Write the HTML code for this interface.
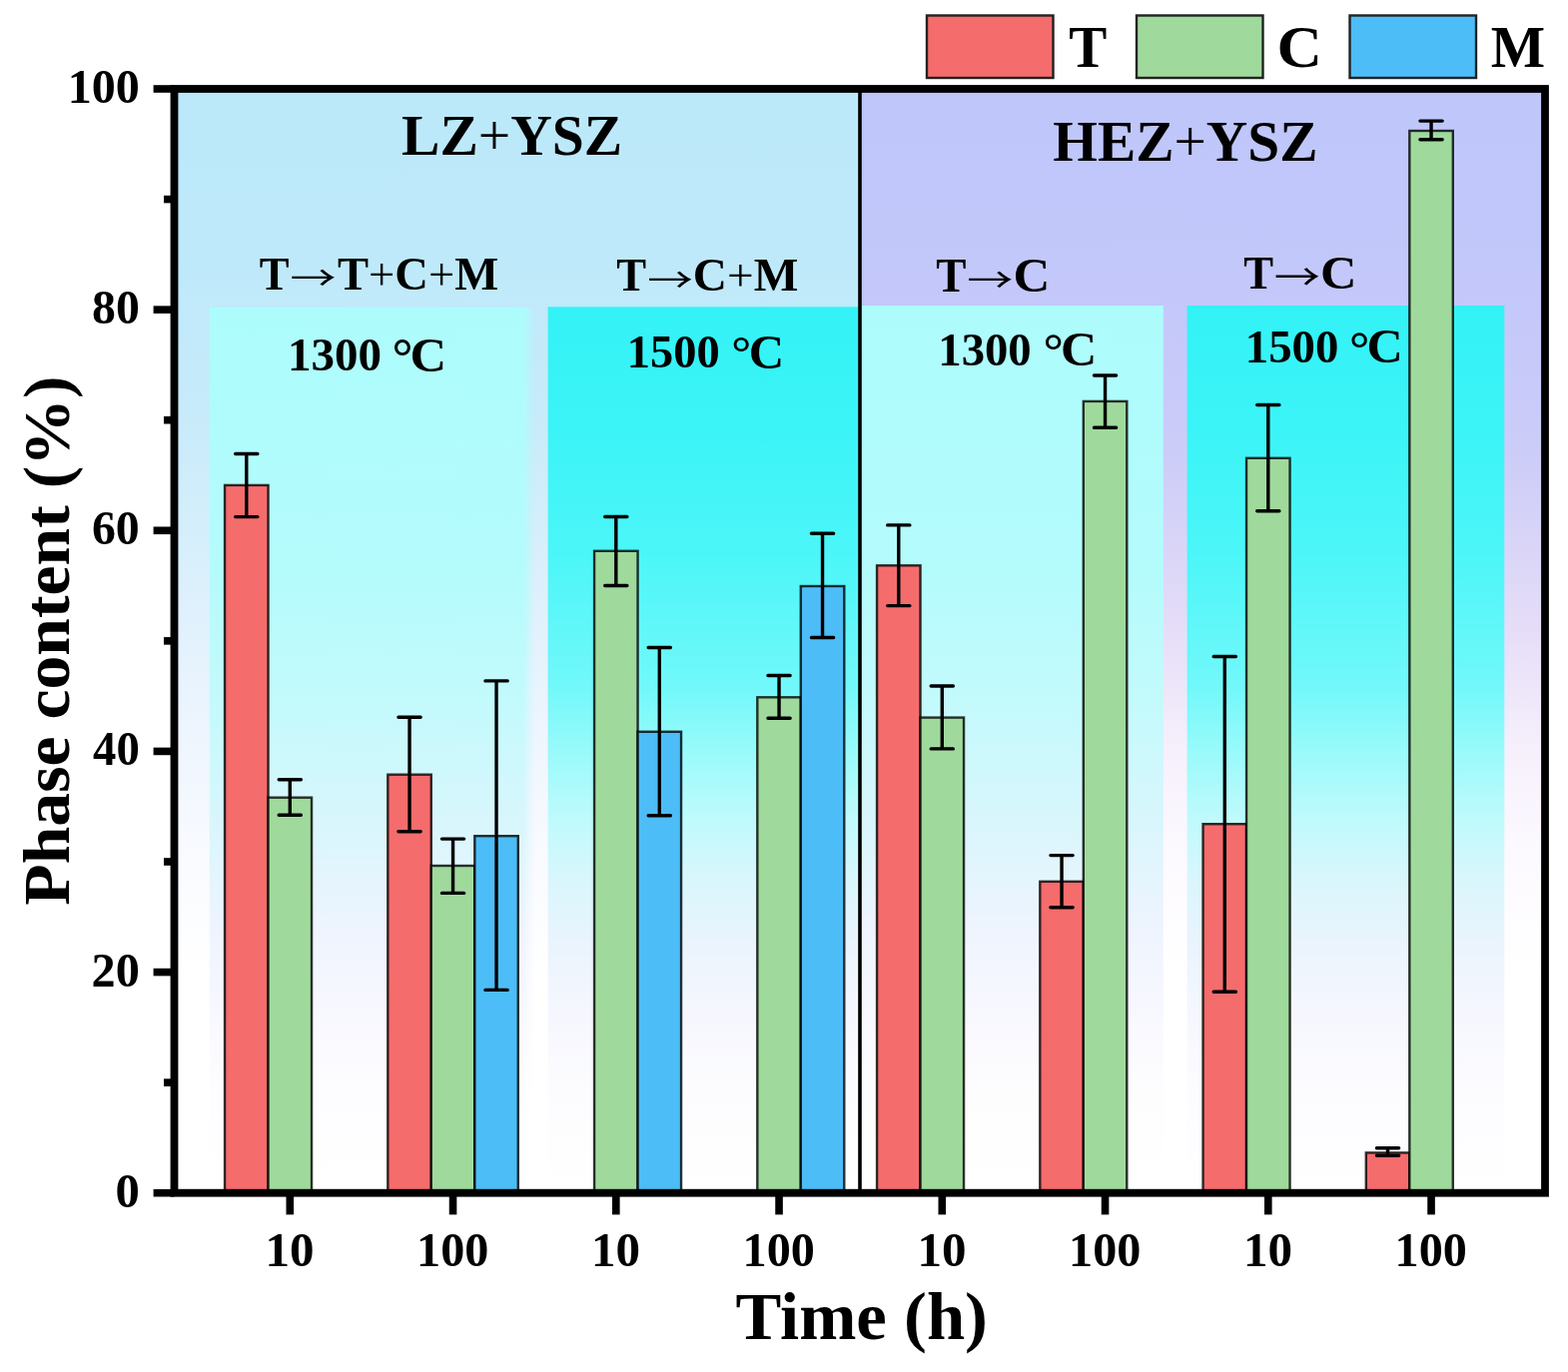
<!DOCTYPE html>
<html><head><meta charset="utf-8"><title>Phase content</title>
<style>html,body{margin:0;padding:0;background:#fff;}svg{display:block;}
text{font-family:"Liberation Serif","Times New Roman",serif;font-weight:bold;fill:#000;}</style></head>
<body>
<svg width="1570" height="1374" viewBox="0 0 1570 1374">
<defs>
<linearGradient id="gLZ" x1="0" y1="0" x2="0" y2="1">
<stop offset="0" stop-color="#BBE9FA"/><stop offset="0.15" stop-color="#BEE9FA"/><stop offset="0.3" stop-color="#C8EBFA"/><stop offset="0.45" stop-color="#DCF0FC"/><stop offset="0.58" stop-color="#EEF5FE"/><stop offset="0.7" stop-color="#F9FBFF"/><stop offset="0.8" stop-color="#FFFFFF"/><stop offset="1" stop-color="#FFFFFF"/>
</linearGradient>
<linearGradient id="gHZ" x1="0" y1="0" x2="0" y2="1">
<stop offset="0" stop-color="#BEC6FA"/><stop offset="0.2" stop-color="#C4C8FA"/><stop offset="0.33" stop-color="#CCCCF8"/><stop offset="0.48" stop-color="#E4DCF8"/><stop offset="0.6" stop-color="#F6F0FC"/><stop offset="0.7" stop-color="#FDFAFF"/><stop offset="0.8" stop-color="#FFFFFF"/><stop offset="1" stop-color="#FFFFFF"/>
</linearGradient>
<linearGradient id="g13" x1="0" y1="0" x2="0" y2="1">
<stop offset="0" stop-color="#ADFCFC"/><stop offset="0.3" stop-color="#B4FBFC"/><stop offset="0.45" stop-color="#C4FAFC"/><stop offset="0.58" stop-color="#D8F6FC"/><stop offset="0.7" stop-color="#EEF4FE"/><stop offset="0.8" stop-color="#F8F8FF"/><stop offset="0.88" stop-color="#FDFDFF"/><stop offset="1" stop-color="#FFFFFF"/>
</linearGradient>
<linearGradient id="g15" x1="0" y1="0" x2="0" y2="1">
<stop offset="0" stop-color="#33F2F6"/><stop offset="0.15" stop-color="#3CF4F7"/><stop offset="0.28" stop-color="#4CF6F8"/><stop offset="0.43" stop-color="#72F8FA"/><stop offset="0.5" stop-color="#98FAFA"/><stop offset="0.58" stop-color="#C0FAFC"/><stop offset="0.65" stop-color="#DAF6FC"/><stop offset="0.72" stop-color="#EAF4FD"/><stop offset="0.8" stop-color="#F6F7FE"/><stop offset="0.88" stop-color="#FCFCFF"/><stop offset="1" stop-color="#FFFFFF"/>
</linearGradient>
<linearGradient id="gm13" gradientUnits="userSpaceOnUse" x1="209.5" y1="0" x2="535.5" y2="0">
<stop offset="0" stop-color="#fff"/><stop offset="0.965" stop-color="#fff"/><stop offset="1" stop-color="#000"/>
</linearGradient>
<mask id="mL13" maskUnits="userSpaceOnUse" x="0" y="0" width="1570" height="1374"><rect x="209.5" y="307.5" width="326" height="900" fill="url(#gm13)"/></mask>
</defs>
<rect x="0" y="0" width="1570" height="1374" fill="#fff"/>
<rect x="174.5" y="89" width="686.5" height="1105.7" fill="url(#gLZ)"/>
<rect x="861" y="89" width="686" height="1105.7" fill="url(#gHZ)"/>
<rect x="209.5" y="307.5" width="326" height="887.2" fill="url(#g13)" mask="url(#mL13)"/>
<rect x="548.6" y="307.3" width="312.4" height="887.4000000000001" fill="url(#g15)"/>
<rect x="861" y="306" width="303.79999999999995" height="888.7" fill="url(#g13)"/>
<rect x="1188.6" y="306" width="317.70000000000005" height="888.7" fill="url(#g15)"/>
<line x1="861" y1="89" x2="861" y2="1194.7" stroke="#000" stroke-width="3.6"/>

<rect x="225.05" y="485.90" width="43.5" height="708.80" fill="#F56C6C" stroke="#000" stroke-opacity="0.8" stroke-width="2.4"/>
<rect x="268.55" y="798.70" width="43.5" height="396.00" fill="#9FDA9C" stroke="#000" stroke-opacity="0.8" stroke-width="2.4"/>
<rect x="388.30" y="775.70" width="43.5" height="419.00" fill="#F56C6C" stroke="#000" stroke-opacity="0.8" stroke-width="2.4"/>
<rect x="431.80" y="867.00" width="43.5" height="327.70" fill="#9FDA9C" stroke="#000" stroke-opacity="0.8" stroke-width="2.4"/>
<rect x="475.30" y="837.20" width="43.5" height="357.50" fill="#4DBDF7" stroke="#000" stroke-opacity="0.8" stroke-width="2.4"/>
<rect x="595.05" y="551.80" width="43.5" height="642.90" fill="#9FDA9C" stroke="#000" stroke-opacity="0.8" stroke-width="2.4"/>
<rect x="638.55" y="732.80" width="43.5" height="461.90" fill="#4DBDF7" stroke="#000" stroke-opacity="0.8" stroke-width="2.4"/>
<rect x="758.30" y="698.30" width="43.5" height="496.40" fill="#9FDA9C" stroke="#000" stroke-opacity="0.8" stroke-width="2.4"/>
<rect x="801.80" y="587.00" width="43.5" height="607.70" fill="#4DBDF7" stroke="#000" stroke-opacity="0.8" stroke-width="2.4"/>
<rect x="878.05" y="566.30" width="43.5" height="628.40" fill="#F56C6C" stroke="#000" stroke-opacity="0.8" stroke-width="2.4"/>
<rect x="921.55" y="718.60" width="43.5" height="476.10" fill="#9FDA9C" stroke="#000" stroke-opacity="0.8" stroke-width="2.4"/>
<rect x="1041.30" y="882.80" width="43.5" height="311.90" fill="#F56C6C" stroke="#000" stroke-opacity="0.8" stroke-width="2.4"/>
<rect x="1084.80" y="401.90" width="43.5" height="792.80" fill="#9FDA9C" stroke="#000" stroke-opacity="0.8" stroke-width="2.4"/>
<rect x="1204.55" y="825.20" width="43.5" height="369.50" fill="#F56C6C" stroke="#000" stroke-opacity="0.8" stroke-width="2.4"/>
<rect x="1248.05" y="458.80" width="43.5" height="735.90" fill="#9FDA9C" stroke="#000" stroke-opacity="0.8" stroke-width="2.4"/>
<rect x="1367.80" y="1154.40" width="43.5" height="40.30" fill="#F56C6C" stroke="#000" stroke-opacity="0.8" stroke-width="2.4"/>
<rect x="1411.30" y="131.00" width="43.5" height="1063.70" fill="#9FDA9C" stroke="#000" stroke-opacity="0.8" stroke-width="2.4"/>
<path d="M246.80 454.50V517.60M235.70 454.50H257.90M235.70 517.60H257.90" stroke="#000" stroke-width="3.4" stroke-linecap="round" fill="none"/>
<path d="M290.30 780.70V816.20M279.20 780.70H301.40M279.20 816.20H301.40" stroke="#000" stroke-width="3.4" stroke-linecap="round" fill="none"/>
<path d="M410.05 718.20V832.80M398.95 718.20H421.15M398.95 832.80H421.15" stroke="#000" stroke-width="3.4" stroke-linecap="round" fill="none"/>
<path d="M453.55 840.10V894.40M442.45 840.10H464.65M442.45 894.40H464.65" stroke="#000" stroke-width="3.4" stroke-linecap="round" fill="none"/>
<path d="M497.05 681.90V991.40M485.95 681.90H508.15M485.95 991.40H508.15" stroke="#000" stroke-width="3.4" stroke-linecap="round" fill="none"/>
<path d="M616.80 517.50V586.50M605.70 517.50H627.90M605.70 586.50H627.90" stroke="#000" stroke-width="3.4" stroke-linecap="round" fill="none"/>
<path d="M660.30 648.50V816.70M649.20 648.50H671.40M649.20 816.70H671.40" stroke="#000" stroke-width="3.4" stroke-linecap="round" fill="none"/>
<path d="M780.05 676.50V719.20M768.95 676.50H791.15M768.95 719.20H791.15" stroke="#000" stroke-width="3.4" stroke-linecap="round" fill="none"/>
<path d="M823.55 534.30V638.50M812.45 534.30H834.65M812.45 638.50H834.65" stroke="#000" stroke-width="3.4" stroke-linecap="round" fill="none"/>
<path d="M899.80 525.90V606.60M888.70 525.90H910.90M888.70 606.60H910.90" stroke="#000" stroke-width="3.4" stroke-linecap="round" fill="none"/>
<path d="M943.30 687.00V749.90M932.20 687.00H954.40M932.20 749.90H954.40" stroke="#000" stroke-width="3.4" stroke-linecap="round" fill="none"/>
<path d="M1063.05 856.60V908.70M1051.95 856.60H1074.15M1051.95 908.70H1074.15" stroke="#000" stroke-width="3.4" stroke-linecap="round" fill="none"/>
<path d="M1106.55 376.00V428.30M1095.45 376.00H1117.65M1095.45 428.30H1117.65" stroke="#000" stroke-width="3.4" stroke-linecap="round" fill="none"/>
<path d="M1226.30 657.50V993.30M1215.20 657.50H1237.40M1215.20 993.30H1237.40" stroke="#000" stroke-width="3.4" stroke-linecap="round" fill="none"/>
<path d="M1269.80 405.50V511.70M1258.70 405.50H1280.90M1258.70 511.70H1280.90" stroke="#000" stroke-width="3.4" stroke-linecap="round" fill="none"/>
<path d="M1389.55 1149.70V1157.30M1378.45 1149.70H1400.65M1378.45 1157.30H1400.65" stroke="#000" stroke-width="3.4" stroke-linecap="round" fill="none"/>
<path d="M1433.05 121.10V139.70M1421.95 121.10H1444.15M1421.95 139.70H1444.15" stroke="#000" stroke-width="3.4" stroke-linecap="round" fill="none"/>
<rect x="174.5" y="89" width="1372.5" height="1105.7" fill="none" stroke="#000" stroke-width="7.8"/>
<line x1="153.6" y1="1194.70" x2="174.5" y2="1194.70" stroke="#000" stroke-width="7.6"/>
<line x1="153.6" y1="973.56" x2="174.5" y2="973.56" stroke="#000" stroke-width="7.6"/>
<line x1="153.6" y1="752.42" x2="174.5" y2="752.42" stroke="#000" stroke-width="7.6"/>
<line x1="153.6" y1="531.28" x2="174.5" y2="531.28" stroke="#000" stroke-width="7.6"/>
<line x1="153.6" y1="310.14" x2="174.5" y2="310.14" stroke="#000" stroke-width="7.6"/>
<line x1="153.6" y1="89.00" x2="174.5" y2="89.00" stroke="#000" stroke-width="7.6"/>
<line x1="164" y1="1084.13" x2="174.5" y2="1084.13" stroke="#000" stroke-width="7.6"/>
<line x1="164" y1="862.99" x2="174.5" y2="862.99" stroke="#000" stroke-width="7.6"/>
<line x1="164" y1="641.85" x2="174.5" y2="641.85" stroke="#000" stroke-width="7.6"/>
<line x1="164" y1="420.71" x2="174.5" y2="420.71" stroke="#000" stroke-width="7.6"/>
<line x1="164" y1="199.57" x2="174.5" y2="199.57" stroke="#000" stroke-width="7.6"/>
<line x1="290.30" y1="1194.7" x2="290.30" y2="1216.4" stroke="#000" stroke-width="7.6"/>
<line x1="453.55" y1="1194.7" x2="453.55" y2="1216.4" stroke="#000" stroke-width="7.6"/>
<line x1="616.80" y1="1194.7" x2="616.80" y2="1216.4" stroke="#000" stroke-width="7.6"/>
<line x1="780.05" y1="1194.7" x2="780.05" y2="1216.4" stroke="#000" stroke-width="7.6"/>
<line x1="943.30" y1="1194.7" x2="943.30" y2="1216.4" stroke="#000" stroke-width="7.6"/>
<line x1="1106.55" y1="1194.7" x2="1106.55" y2="1216.4" stroke="#000" stroke-width="7.6"/>
<line x1="1269.80" y1="1194.7" x2="1269.80" y2="1216.4" stroke="#000" stroke-width="7.6"/>
<line x1="1433.05" y1="1194.7" x2="1433.05" y2="1216.4" stroke="#000" stroke-width="7.6"/>
<rect x="928" y="15.5" width="126.5" height="62.5" fill="#F56C6C" stroke="#222" stroke-width="2.4"/>
<rect x="1138" y="15.5" width="126.5" height="62.5" fill="#9FDA9C" stroke="#222" stroke-width="2.4"/>
<rect x="1351.5" y="15.5" width="126.5" height="62.5" fill="#4DBDF7" stroke="#222" stroke-width="2.4"/>
<text transform="translate(1070.34,67.30) scale(0.9516,1)" font-size="60.00">T</text>
<text transform="translate(1278.41,67.20) scale(1.0449,1)" font-size="60.22">C</text>
<text transform="translate(1492.79,67.00) scale(0.9724,1)" font-size="59.24">M</text>
<text transform="translate(401.99,155.42) scale(0.9929,1)" font-size="57.99">LZ<tspan style="font-weight:normal">+</tspan>YSZ</text>
<text transform="translate(1054.30,161.42) scale(0.9896,1)" font-size="57.99">HEZ<tspan style="font-weight:normal">+</tspan>YSZ</text>
<text transform="translate(736.47,1340.72) scale(1.0220,1)" font-size="67.22">Time (h)</text>
<text transform="translate(288.03,370.93) scale(0.9928,1)" font-size="47.41">1300</text>
<text transform="translate(392.51,374.63) scale(1.0044,1)" font-size="52.23">°</text>
<text transform="translate(410.39,371.81) scale(1.0366,1)" font-size="48.92">C</text>
<text transform="translate(627.79,367.84) scale(1.0175,1)" font-size="45.63">1500</text>
<text transform="translate(732.33,368.94) scale(1.0542,1)" font-size="47.27">°</text>
<text transform="translate(749.87,368.80) scale(0.9903,1)" font-size="49.52">C</text>
<text transform="translate(939.26,365.53) scale(1.0049,1)" font-size="46.52">1300</text>
<text transform="translate(1044.39,368.08) scale(1.0249,1)" font-size="49.59">°</text>
<text transform="translate(1061.92,366.22) scale(1.0358,1)" font-size="48.48">C</text>
<text transform="translate(1246.86,362.64) scale(1.0179,1)" font-size="45.93">1500</text>
<text transform="translate(1350.89,365.58) scale(1.0249,1)" font-size="49.59">°</text>
<text transform="translate(1368.42,363.32) scale(1.0486,1)" font-size="47.88">C</text>
<text transform="translate(259.73,289.70) scale(0.9446,1)" font-size="47.33">T</text>
<text style="font-family:'Noto Sans CJK SC','Noto Sans CJK JP',sans-serif;font-weight:400" transform="translate(290.46,291.48) scale(1.3373,1)" font-size="34.44">→</text>
<text transform="translate(337.90,289.70) scale(0.9844,1)" font-size="47.33">T<tspan style="font-weight:normal">+</tspan>C<tspan style="font-weight:normal">+</tspan>M</text>
<text transform="translate(617.23,291.00) scale(0.9538,1)" font-size="46.87">T</text>
<text style="font-family:'Noto Sans CJK SC','Noto Sans CJK JP',sans-serif;font-weight:400" transform="translate(648.27,292.69) scale(1.3531,1)" font-size="33.80">→</text>
<text transform="translate(693.85,291.00) scale(1.0095,1)" font-size="46.87">C<tspan style="font-weight:normal">+</tspan>M</text>
<text transform="translate(937.22,291.60) scale(0.9426,1)" font-size="48.09">T</text>
<text style="font-family:'Noto Sans CJK SC','Noto Sans CJK JP',sans-serif;font-weight:400" transform="translate(968.25,293.08) scale(1.3404,1)" font-size="34.44">→</text>
<text transform="translate(1014.58,291.60) scale(1.0614,1)" font-size="48.09">C</text>
<text transform="translate(1245.23,288.60) scale(0.9664,1)" font-size="46.26">T</text>
<text style="font-family:'Noto Sans CJK SC','Noto Sans CJK JP',sans-serif;font-weight:400" transform="translate(1275.85,291.46) scale(1.2695,1)" font-size="36.36">→</text>
<text transform="translate(1322.10,288.60) scale(1.0926,1)" font-size="46.26">C</text>
<text transform="translate(69.31,906.68) rotate(-90) scale(1.0363,1)" font-size="65.34">Phase content (%)</text>
<text transform="translate(115.47,1208.72) scale(1.0085,1)" font-size="48.30">0</text>
<text transform="translate(91.55,987.58) scale(0.9993,1)" font-size="48.30">20</text>
<text transform="translate(93.02,766.44) scale(0.9677,1)" font-size="48.30">40</text>
<text transform="translate(91.92,545.30) scale(0.9912,1)" font-size="48.30">60</text>
<text transform="translate(92.05,324.16) scale(0.9885,1)" font-size="48.30">80</text>
<text transform="translate(67.65,103.02) scale(0.9960,1)" font-size="48.30">100</text>
<text transform="translate(265.42,1268.02) scale(1.0317,1)" font-size="47.56">10</text>
<text transform="translate(417.10,1268.02) scale(1.0130,1)" font-size="47.56">100</text>
<text transform="translate(591.92,1268.02) scale(1.0317,1)" font-size="47.56">10</text>
<text transform="translate(743.60,1268.02) scale(1.0130,1)" font-size="47.56">100</text>
<text transform="translate(918.42,1268.02) scale(1.0317,1)" font-size="47.56">10</text>
<text transform="translate(1070.10,1268.02) scale(1.0130,1)" font-size="47.56">100</text>
<text transform="translate(1244.92,1268.02) scale(1.0317,1)" font-size="47.56">10</text>
<text transform="translate(1396.60,1268.02) scale(1.0130,1)" font-size="47.56">100</text>
</svg>
</body></html>
